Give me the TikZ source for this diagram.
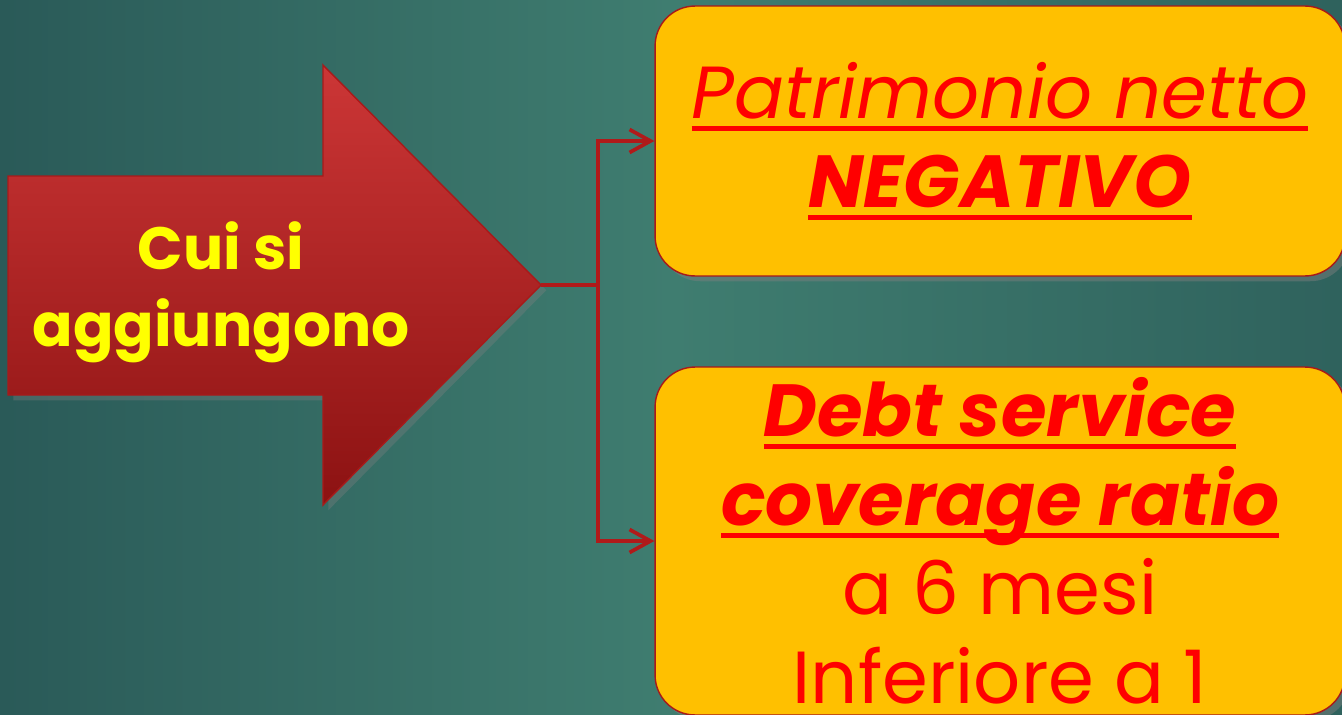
\documentclass[tikz,border=0pt]{standalone}
\usepackage{fontspec}
\setmainfont{Poppins}
\usetikzlibrary{arrows.meta,shadows}

\definecolor{bgleft}{HTML}{2A5A58}
\definecolor{bgmid}{HTML}{3F7D70}
\definecolor{bgright}{HTML}{2F625D}
\definecolor{arrowtop}{HTML}{CC3636}
\definecolor{arrowbot}{HTML}{8C1212}
\definecolor{arrowline}{HTML}{A81A1A}
\definecolor{boxfill}{HTML}{FFC000}
\definecolor{boxtext}{HTML}{FF0000}
\definecolor{linkred}{HTML}{B01A1A}
\definecolor{cuiyellow}{HTML}{FFFF00}

% thick underline at a fixed depth
\newcommand{\redul}[1]{\leavevmode\setbox0\hbox{#1}\rlap{\raisebox{-7pt}{\rule{\wd0}{2.8pt}}}\box0}

\begin{document}
\begin{tikzpicture}[x=0.02cm,y=-0.02cm,
	choice/.style={draw=arrowline, line width=0.8pt, fill=boxfill, rounded corners=0.8cm,
		text=boxtext, align=center, minimum width=13.8cm, inner sep=0pt,
		font=\fontsize{42}{50.6}\selectfont,
		drop shadow={opacity=0.45, shadow xshift=3pt, shadow yshift=-3pt}},
	link/.style={draw=linkred, line width=2.1pt},
	barb/.style={-{Straight Barb[length=0.42cm,width=0.46cm,line width=2.1pt]}}]
	\useasboundingbox (0,0) rectangle (1342,714);
	\clip (0,0) rectangle (1342,714);
	% background
	\shade[left color=bgleft, right color=bgright, middle color=bgmid] (0,0) rectangle (1342,714);
	% big arrow
	\path[top color=arrowtop, bottom color=arrowbot, draw=arrowline, line width=0.8pt,
		drop shadow={opacity=0.35, shadow xshift=3pt, shadow yshift=-3pt}]
		(8,176) -- (323,176) -- (323,65) -- (541,285) -- (323,505) -- (323,395) -- (8,395) -- cycle;
	\coordinate (tip) at (541,285);
	\node[text=cuiyellow, align=center, font=\bfseries\fontsize{34}{44}\selectfont] (cui) at (221,292)
		{Cui si\\aggiungono};
	% boxes
	\node[choice, minimum height=5.4cm] (patr) at (1000,141)
		{\redul{\itshape Patrimonio netto}\\\redul{\bfseries\itshape NEGATIVO}};
	\node[choice, minimum height=6.96cm] (dscr) at (1000,541)
		{\redul{\bfseries\itshape Debt service}\\\redul{\bfseries\itshape coverage ratio}\\a 6 mesi\\Inferiore a 1};
	% connectors
	\coordinate (fork) at (598,285);
	\draw[link] (tip) -- (fork);
	\draw[link,barb] (fork) |- (patr.west);
	\draw[link,barb] (fork) |- (dscr.west);
\end{tikzpicture}
\end{document}
